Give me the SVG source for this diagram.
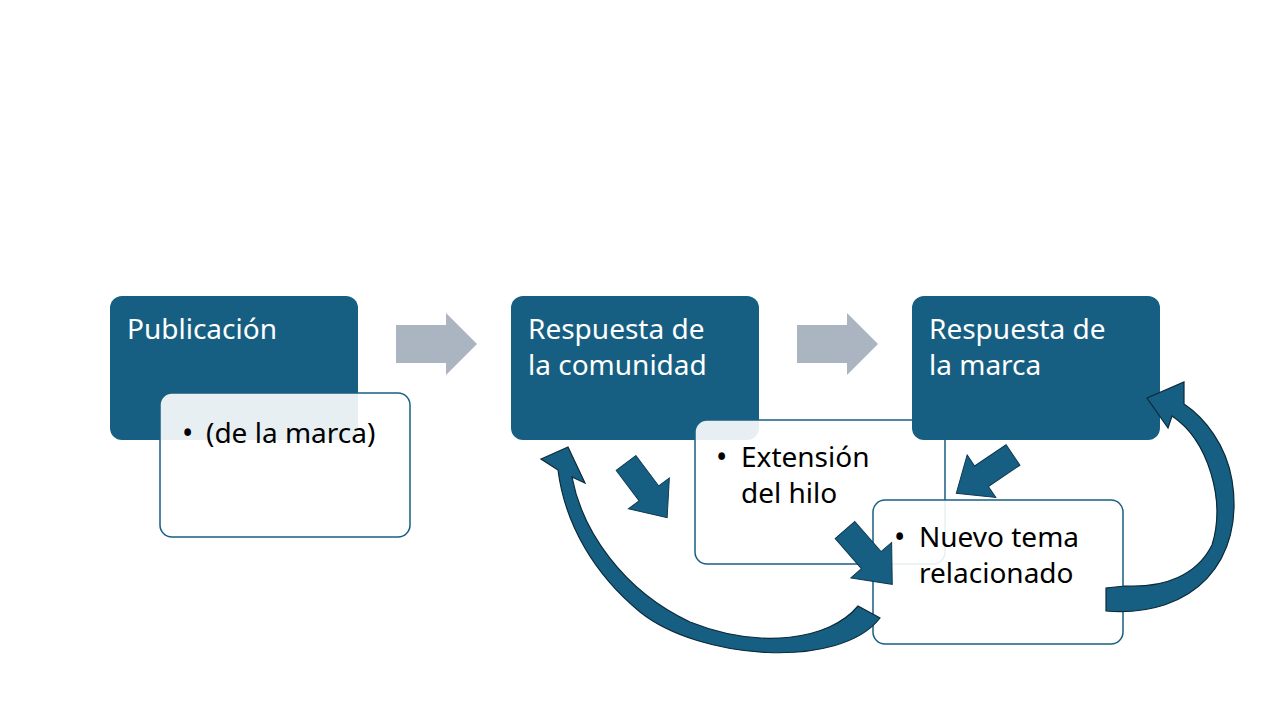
<svg xmlns="http://www.w3.org/2000/svg" width="1280" height="720" viewBox="0 0 1280 720">
<defs>
<style>
.blue{fill:#175f82}
.sub{fill:#ffffff;fill-opacity:0.9;stroke:#175f82;stroke-width:1.5}
.gray{fill:#aab5c1}
.barr{fill:#175f82;stroke:#0d3850;stroke-width:1}
.curv{fill:#175f82;stroke:#0b2a3a;stroke-width:1.2}
.h{font-family:"Noto Sans","Open Sans",sans-serif;font-size:28px;fill:#ffffff}
.t{font-family:"Noto Sans","Open Sans",sans-serif;font-size:28px;fill:#000000}
.b{font-family:"Noto Sans","Open Sans",sans-serif;font-size:30px;fill:#000000}
</style>
<path id="ba" d="M0,-13 L40,-13 L40,-27 L72,0 L40,27 L40,13 L0,13 Z"/>
</defs>
<rect width="1280" height="720" fill="#ffffff"/>
<g id="n1">
<rect class="blue" x="110" y="296" width="248" height="144" rx="12"/>
<text class="h" x="127" y="339">Publicación</text>
</g>
<g id="n1b">
<rect class="sub" x="160" y="393" width="250" height="144" rx="12"/>
<text class="b" x="182" y="444">•</text>
<text class="t" x="206" y="443">(de la marca)</text>
</g>
<g id="n2">
<rect class="blue" x="511" y="296" width="248" height="144" rx="12"/>
<text class="h" x="528" y="339">Respuesta de</text>
<text class="h" x="528" y="375">la comunidad</text>
</g>
<g id="n2b">
<rect class="sub" x="695" y="420" width="250" height="144" rx="12"/>
<text class="b" x="716" y="468">•</text>
<text class="t" x="741" y="467">Extensión</text>
<text class="t" x="741" y="503">del hilo</text>
</g>
<g id="n3">
<rect class="blue" x="912" y="296" width="248" height="144" rx="12"/>
<text class="h" x="929" y="339">Respuesta de</text>
<text class="h" x="929" y="375">la marca</text>
</g>
<g id="n3b">
<rect class="sub" x="873" y="500" width="250" height="144" rx="12"/>
<text class="b" x="894" y="548">•</text>
<text class="t" x="919" y="547">Nuevo tema</text>
<text class="t" x="919" y="583">relacionado</text>
</g>
<g id="connectors">
<path class="gray" d="M396,325 L446,325 L446,313 L477,344 L446,375 L446,363 L396,363 Z"/>
<path class="gray" d="M797,325 L847,325 L847,313 L878,344 L847,375 L847,363 L797,363 Z"/>
<use href="#ba" class="barr" transform="translate(626,463) rotate(53) scale(0.95)"/>
<use href="#ba" class="barr" transform="translate(845,530) rotate(49) scale(1)"/>
<use href="#ba" class="barr" transform="translate(1013,455) rotate(146) scale(0.95)"/>
<path class="curv" d="M880,618 C840,670 700,660 640,612 C595,575 565,525 558,470 L541,459 L568,447 L585,483 L572,477 C582,530 622,590 690,622 C760,650 830,640 858,606 Z"/>
<path class="curv" d="M1106,588 L1106,611 C1195,618 1245,560 1232,480 C1226,445 1205,418 1184,404 L1184,382 L1147,398 L1168,428 L1172,416 C1208,440 1226,500 1212,545 C1197,575 1165,588 1125,586 Z"/>
</g>
</svg>
